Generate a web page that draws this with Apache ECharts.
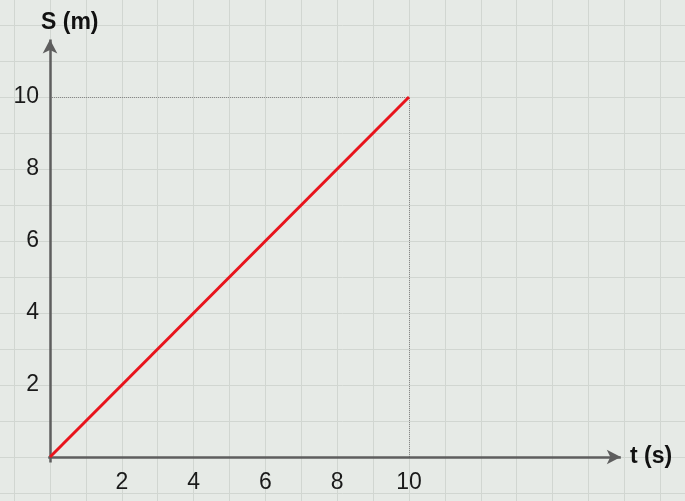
<!DOCTYPE html>
<html>
<head>
<meta charset="utf-8">
<script src="https://cdn.jsdelivr.net/npm/echarts@6/dist/echarts.min.js"></script>
<style>
  html, body { margin: 0; padding: 0; background: #e6eae6; }
  #chart { width: 685px; height: 501px; }
</style>
</head>
<body>
<div id="chart"></div>
<script>
// motion data
const tValues = [0, 10];
const sValues = [0, 10];
const xTickLabels = [2, 4, 6, 8, 10];
const yTickLabels = [2, 4, 6, 8, 10];
// paper range and axis arrow ends
const xRange = [-2, 18];
const yRange = [-2, 13];
const xArrowEnd = 15.9;
const yArrowEnd = 11.6;

const chart = echarts.init(document.getElementById('chart'));

const axisStyle = { color: '#5e5e5e', width: 2.5, type: 'solid' };
const guideStyle = { color: '#888', width: 1, type: 'dotted' };
const tickFont = { fontFamily: 'Liberation Sans, Arial, sans-serif', fontSize: 23, color: '#1a1a1a' };
const titleFont = 'bold 23px Arial, sans-serif';

const option = {
    animation: false,
    backgroundColor: '#e6eae6',
    grid: [
        // squared paper
        { left: -21.8, right: -11.2, top: -11, bottom: -28, containLabel: false, outerBoundsMode: 'none' },
        // plot area from origin to (10, 10), used for tick labels
        { left: 50, right: 276, top: 97, bottom: 44, containLabel: false, outerBoundsMode: 'none' }
    ],
    xAxis: [
        {
            gridIndex: 0, type: 'value', min: xRange[0], max: xRange[1], interval: 1,
            axisLine: { show: false }, axisTick: { show: false }, axisLabel: { show: false },
            splitLine: { show: true, lineStyle: { color: '#d1d6d1', width: 1 } }
        },
        {
            gridIndex: 1, type: 'value', min: 0, max: 10, interval: 2,
            axisLine: { show: false }, axisTick: { show: false }, splitLine: { show: false },
            axisLabel: Object.assign({
                margin: 14,
                formatter: v => xTickLabels.includes(v) ? String(v) : ''
            }, tickFont)
        }
    ],
    yAxis: [
        {
            gridIndex: 0, type: 'value', min: yRange[0], max: yRange[1], interval: 1,
            axisLine: { show: false }, axisTick: { show: false }, axisLabel: { show: false },
            splitLine: { show: true, lineStyle: { color: '#d1d6d1', width: 1 } }
        },
        {
            gridIndex: 1, type: 'value', min: 0, max: 10, interval: 2,
            axisLine: { show: false }, axisTick: { show: false }, splitLine: { show: false },
            axisLabel: Object.assign({
                margin: 11,
                formatter: v => yTickLabels.includes(v) ? String(v) : ''
            }, tickFont)
        }
    ],
    series: [{
        type: 'line',
        xAxisIndex: 0,
        yAxisIndex: 0,
        data: tValues.map((t, i) => [t, sValues[i]]),
        symbol: 'none',
        lineStyle: { color: '#e8141c', width: 3 },
        z: 5,
        markLine: {
            silent: true,
            symbol: 'none',
            label: { show: false },
            data: [
                // dotted guides to (10, 10)
                [{ coord: [0, sValues[1]], lineStyle: guideStyle },
                 { coord: [tValues[1], sValues[1]] }],
                [{ coord: [tValues[1], 0], lineStyle: guideStyle },
                 { coord: [tValues[1], sValues[1]] }],
                // axes with arrows
                [{ coord: [-0.05, 0], lineStyle: axisStyle, symbol: 'none' },
                 { coord: [xArrowEnd, 0], symbol: 'arrow', symbolSize: [11, 14] }],
                [{ coord: [0, -0.15], lineStyle: axisStyle, symbol: 'none' },
                 { coord: [0, yArrowEnd], symbol: 'arrow', symbolSize: [11, 14] }]
            ]
        }
    }],
    graphic: [
        {
            type: 'text', left: 41, top: 11, z: 100,
            style: { text: 'S (m)', font: titleFont, fill: '#111' }
        },
        {
            type: 'text', left: 630, top: 445, z: 100,
            style: { text: 't (s)', font: titleFont, fill: '#111' }
        }
    ]
};

chart.setOption(option);
</script>
</body>
</html>
